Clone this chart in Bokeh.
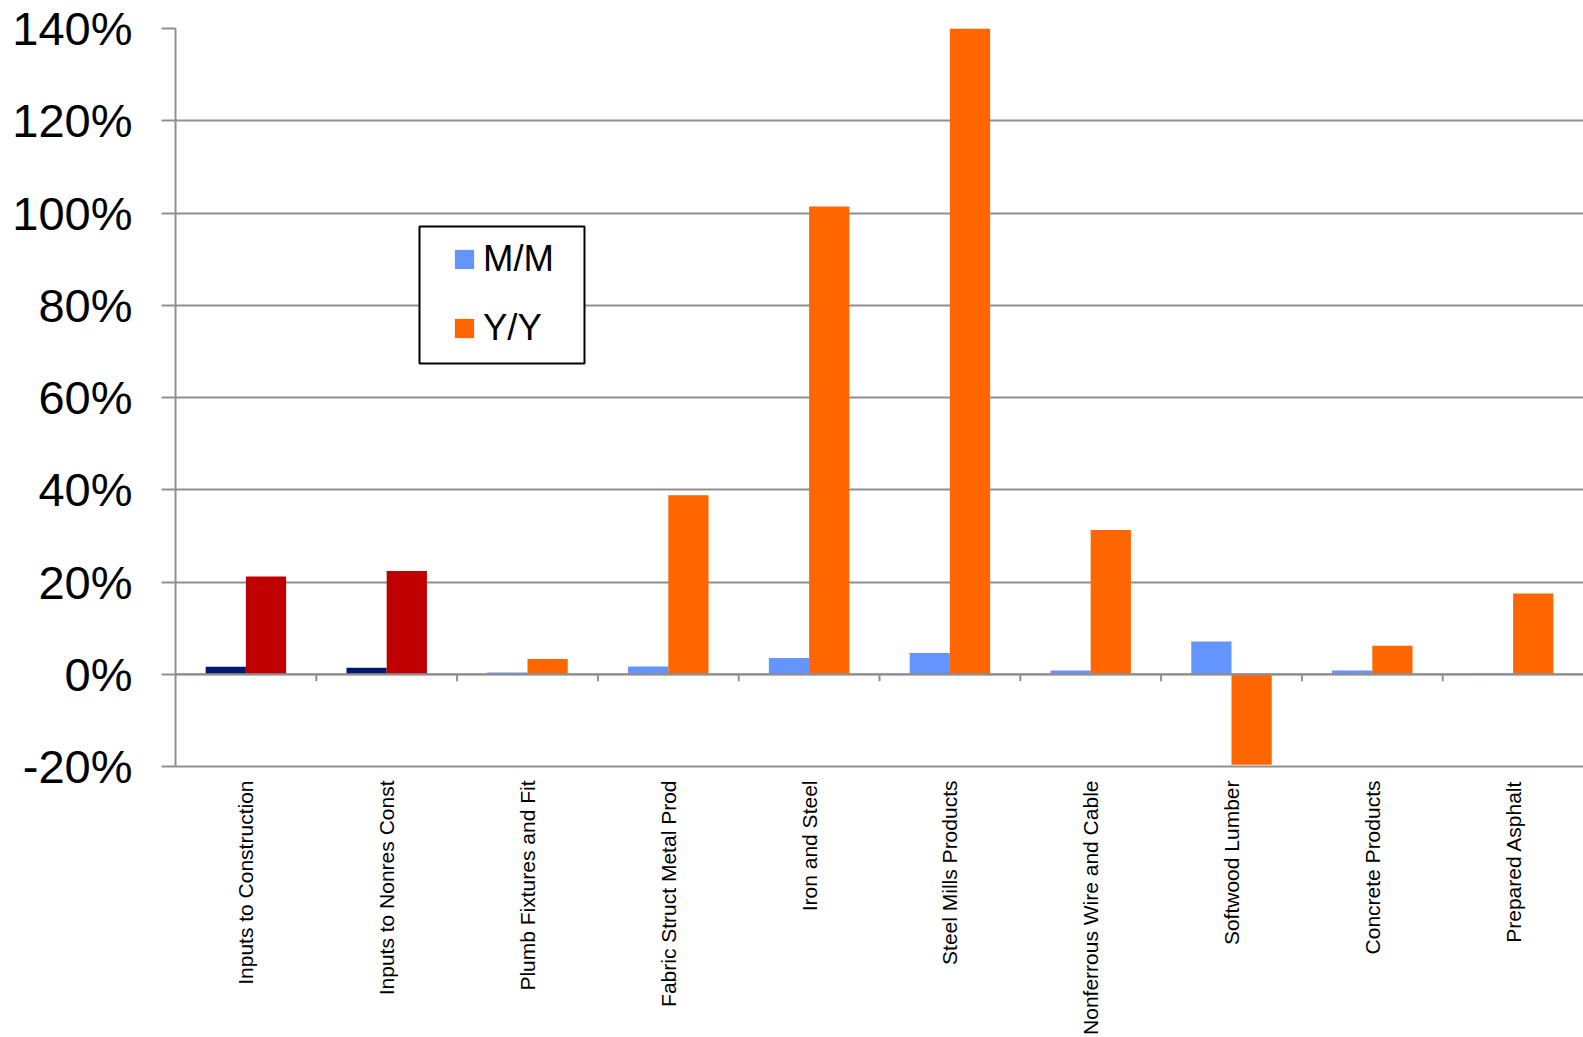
import math
from bokeh.plotting import figure
from bokeh.models import (Range1d, FixedTicker, PrintfTickFormatter, Span,
                          ColumnDataSource, Legend, LegendItem, BoxAnnotation)
from bokeh.embed import file_html
from bokeh.resources import INLINE

# ---- data ----
categories = [
    "Inputs to Construction",
    "Inputs to Nonres Const",
    "Plumb Fixtures and Fit",
    "Fabric Struct Metal Prod",
    "Iron and Steel",
    "Steel Mills Products",
    "Nonferrous Wire and Cable",
    "Softwood Lumber",
    "Concrete Products",
    "Prepared Asphalt",
]
mm_values = [1.6, 1.4, 0.4, 1.7, 3.5, 4.6, 0.8, 7.1, 0.8, 0.15]
yy_values = [21.2, 22.4, 3.3, 38.8, 101.4, 143.0, 31.3, -19.6, 6.2, 17.5]
y_ticks = [-20, 0, 20, 40, 60, 80, 100, 120, 140]

# ---- styles ----
MM_BLUE, MM_NAVY = "#6495FF", "#001A6E"
YY_ORANGE, YY_RED = "#FF6600", "#C00000"
GRID = "#8f8f8f"
FONT = "Liberation Sans"
highlight = {0, 1}

FRAME_W, FRAME_H = 1408, 738
Y0, Y1 = -20, 140

n = len(categories)
idx = list(range(n))
bar_w = 0.2857
src = ColumnDataSource(dict(
    x_mm=[i + 0.5 - bar_w / 2 for i in idx],
    x_yy=[i + 0.5 + bar_w / 2 for i in idx],
    mm=mm_values,
    yy=yy_values,
    mm_color=[MM_NAVY if i in highlight else MM_BLUE for i in idx],
    yy_color=[YY_RED if i in highlight else YY_ORANGE for i in idx],
))

p = figure(frame_width=FRAME_W, frame_height=FRAME_H,
           x_range=Range1d(0, n), y_range=Range1d(Y0, Y1),
           output_backend="svg", toolbar_location=None,
           min_border_left=175, min_border_right=0,
           min_border_top=28, min_border_bottom=270)
p.outline_line_color = None
p.background_fill_color = "white"

r_mm = p.vbar(x="x_mm", top="mm", bottom=0, width=bar_w, source=src,
              fill_color="mm_color", line_color=None)
r_yy = p.vbar(x="x_yy", top="yy", bottom=0, width=bar_w, source=src,
              fill_color="yy_color", line_color=None)

# zero line above the bars, with small ticks between categories
p.add_layout(Span(location=0, dimension="width", line_color=GRID, line_width=2))
tick_len = 7 * (Y1 - Y0) / FRAME_H
bounds = list(range(1, n))
p.segment(x0=bounds, y0=[0] * len(bounds), x1=bounds, y1=[-tick_len] * len(bounds),
          line_color=GRID, line_width=2)

# y axis
yt = FixedTicker(ticks=y_ticks)
ya = p.yaxis[0]
ya.ticker = yt
ya.formatter = PrintfTickFormatter(format="%d%%")
ya.major_label_text_font = FONT
ya.major_label_text_font_size = "47px"
ya.major_label_text_color = "black"
ya.major_tick_out = 14
ya.major_tick_in = 0
ya.minor_tick_out = 0
ya.minor_tick_in = 0
ya.major_tick_line_color = GRID
ya.major_tick_line_width = 2
ya.axis_line_color = GRID
ya.axis_line_width = 2
ya.major_label_standoff = 29

p.ygrid.ticker = yt
p.ygrid.grid_line_color = GRID
p.ygrid.grid_line_width = 2
p.xgrid.visible = False

# category label axis (bottom)
xa = p.xaxis[0]
xa.ticker = FixedTicker(ticks=[i + 0.5 for i in idx])
xa.major_label_overrides = {i + 0.5: c for i, c in zip(idx, categories)}
xa.major_label_orientation = math.pi / 2
xa.major_label_text_font = FONT
xa.major_label_text_font_size = "21px"
xa.major_label_text_color = "black"
xa.major_tick_out = 0
xa.major_tick_in = 0
xa.minor_tick_out = 0
xa.minor_tick_in = 0
xa.axis_line_color = GRID
xa.axis_line_width = 2
xa.major_label_standoff = 14

# legend box + legend
box = BoxAnnotation(left=419, right=584, top=226, bottom=363,
                    left_units="canvas", right_units="canvas",
                    top_units="canvas", bottom_units="canvas",
                    fill_color="white", fill_alpha=1.0,
                    line_color="black", line_width=2, line_alpha=1.0)
p.add_layout(box)

legend = Legend(items=[LegendItem(label="M/M", renderers=[r_mm], index=2),
                       LegendItem(label="Y/Y", renderers=[r_yy], index=2)],
                location=(277, 417), padding=0, margin=0, spacing=27,
                label_text_font=FONT, label_text_font_size="36.5px",
                label_text_color="black",
                glyph_width=24, glyph_height=24, label_height=41,
                label_standoff=7,
                border_line_alpha=0, background_fill_alpha=0)
p.add_layout(legend)

open("out.html", "w").write(file_html(p, INLINE))
